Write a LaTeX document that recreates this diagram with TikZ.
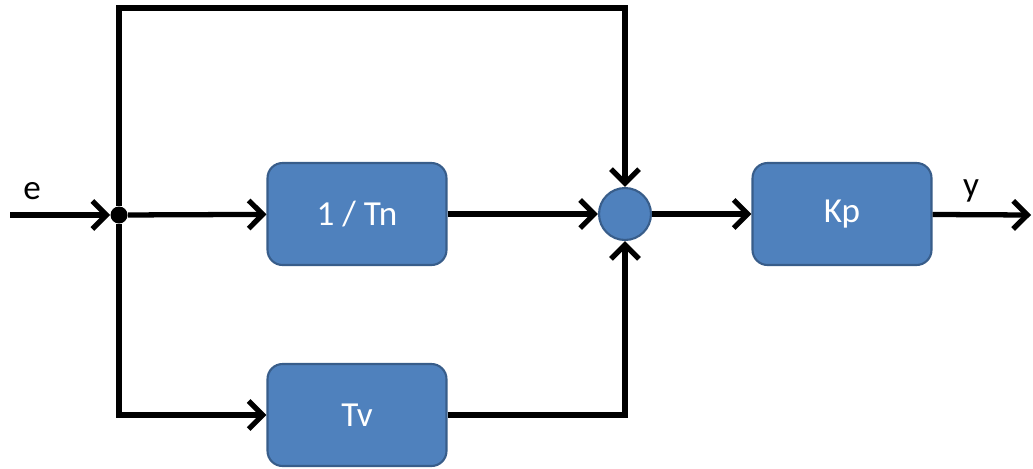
\documentclass[tikz,border=0pt]{standalone}
\usepackage{fontspec}
\setmainfont{Carlito}
\usetikzlibrary{arrows.meta}
\definecolor{blockblue}{RGB}{79,129,189}
\definecolor{blockedge}{RGB}{56,93,138}

\begin{document}
\begin{tikzpicture}[x=0.02cm, y=-0.02cm]
      \tikzset{block/.style={draw=blockedge, line width=1.2pt, fill=blockblue, rounded corners=0.3cm, minimum width=3.58cm, minimum height=2.04cm, text=white, font=\fontsize{20}{24}\selectfont},
               summer/.style={draw=blockedge, line width=1.2pt, fill=blockblue, circle, inner sep=0pt, minimum size=1.04cm},
               branch/.style={circle, fill=black, inner sep=0pt, minimum size=.34cm},
               signal/.style={line width=3pt, line join=miter, -{Straight Barb[length=8pt, width=16pt]}},
               sigtext/.style={font=\fontsize{20}{24}\selectfont}}
      \useasboundingbox (0,0) rectangle (1033,468);
%% Blocks
	%hovedlinje
      	\node[branch] (split) at (119,215) {};
      	\node[block] (tn) at (357,214) {1 / Tn};
      	\node[summer] (sum) at (625,214) {};
      	\node[block] (kp) at (842,214) {Kp};
	%nederst
      	\node[block] (tv) at (357,415) {Tv};
%% Ends
      	\coordinate (in) at (10,215);
      	\coordinate (out) at (1031,215);
      	\coordinate (tr) at (625,8);
      	\node[sigtext] (elabel) at (32,191) {e};
      	\node[sigtext] (ylabel) at (971,191) {y};
%Signals
		\draw [signal] (in) -- (split);
		\draw [signal] (split) -- (tn);
		\draw [signal] (tn) -- (sum);
		\draw [signal] (sum) -- (kp);
		\draw [signal] (kp) -- (out);
		\draw [signal] (split) |- (tr) -- (sum);
		\draw [signal] (split) |- (tv);
		\draw [signal] (tv) -| (sum);

\end{tikzpicture}
\end{document}
